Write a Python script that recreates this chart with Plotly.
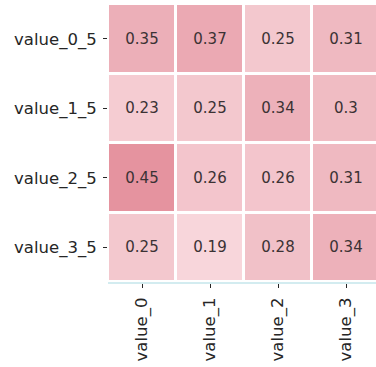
import plotly.graph_objects as go

x_labels = ["value_0", "value_1", "value_2", "value_3"]
y_labels = ["value_0_5", "value_1_5", "value_2_5", "value_3_5"]
values = [
    [0.35, 0.37, 0.25, 0.31],
    [0.23, 0.25, 0.34, 0.30],
    [0.45, 0.26, 0.26, 0.31],
    [0.25, 0.19, 0.28, 0.34],
]

colorscale = [[0.0, "#f8d6db"], [0.5, "#eeb7bf"], [1.0, "#e5939f"]]

fig = go.Figure(go.Heatmap(
    z=values, x=x_labels, y=y_labels,
    colorscale=colorscale, zmin=0.19, zmax=0.45,
    showscale=False, xgap=3, ygap=3,
    texttemplate="%{z}", textfont=dict(size=15, color="#3b3234", family="DejaVu Sans"),
))

fig.update_layout(
    width=376, height=367,
    margin=dict(l=108, r=0, t=4, b=85),
    paper_bgcolor="white", plot_bgcolor="white",
    font=dict(family="DejaVu Sans", size=16.5, color="#262626"),
)
fig.update_xaxes(
    range=[-0.5, 3.44], tickangle=-90, ticks="outside", ticklen=4,
    tickcolor="#262626", showgrid=False, zeroline=False,
    showline=True, linecolor="#d3ecf0", linewidth=2, ticklabelstandoff=3,
)
fig.update_yaxes(
    autorange="reversed", ticks="outside", ticklen=4,
    tickcolor="#262626", showgrid=False, zeroline=False, ticklabelstandoff=3,
)

fig.write_html("out.html")
